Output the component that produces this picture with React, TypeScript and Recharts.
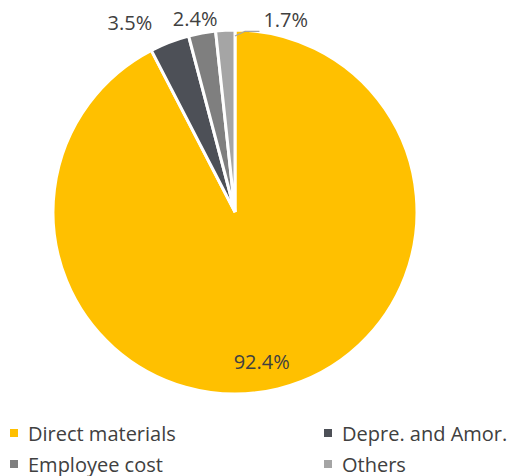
import { PieChart, Pie, Cell, Legend } from "recharts";

const categories = ["Direct materials", "Depre. and Amor.", "Employee cost", "Others"];
const shares = [92.4, 3.5, 2.4, 1.7];
const colors = ["#FFC000", "#4D5057", "#7F7F7F", "#A5A5A5"];
// hand nudges so labels sit where the original puts them
const labelNudge = [
  [-9, 3],
  [-34, -5],
  [-4, 1],
  [40, 5],
];

const data = categories.map((name, i) => ({ name, value: shares[i] }));

const RAD = Math.PI / 180;
const TEXT = "#404040";
const FONT = "'Open Sans', 'Liberation Sans', sans-serif";

function renderLabel(props: any) {
  const { cx, cy, midAngle, outerRadius, index, value } = props;
  const txt = `${value.toFixed(1)}%`;
  const r = index === 0 ? outerRadius * 0.83 : outerRadius + 16;
  const x = cx + r * Math.cos(-midAngle * RAD) + labelNudge[index][0];
  const y = cy + r * Math.sin(-midAngle * RAD) + labelNudge[index][1];
  if (index === 3) {
    const sx = cx;
    const sy = cy - outerRadius + 6;
    return (
      <g>
        <polyline
          points={`${sx},${sy} ${sx + 10},${y + 12} ${x - 5},${y + 12}`}
          fill="none"
          stroke="#A5A5A5"
          strokeWidth={1.3}
        />
        <text x={x - 1} y={y} fill={TEXT} fontSize={20} fontFamily={FONT} textAnchor="start" dominantBaseline="central">
          {txt}
        </text>
      </g>
    );
  }
  return (
    <text x={x} y={y} fill={TEXT} fontSize={20} fontFamily={FONT} textAnchor="middle" dominantBaseline="central">
      {txt}
    </text>
  );
}

function LegendBox() {
  return (
    <div style={{ position: "relative", width: 514, height: 56, fontFamily: FONT, fontSize: 20, color: TEXT }}>
      {categories.map((name, i) => (
        <div
          key={name}
          style={{
            position: "absolute",
            left: i % 2 === 0 ? 10 : 324,
            top: i < 2 ? 0 : 31,
            display: "flex",
            alignItems: "center",
            height: 26,
            whiteSpace: "nowrap",
          }}
        >
          <span style={{ width: 8, height: 8, background: colors[i], display: "inline-block", marginRight: 10 }} />
          <span>{name}</span>
        </div>
      ))}
    </div>
  );
}

export default function App() {
  return (
    <div style={{ position: "absolute", left: 0, top: 0, width: 514, height: 476, background: "#fff" }}>
      <PieChart width={514} height={476}>
        <Pie
          data={data}
          dataKey="value"
          nameKey="name"
          cx={230}
          cy={207}
          outerRadius={182}
          startAngle={90}
          endAngle={-270}
          stroke="#fff"
          strokeWidth={3}
          label={renderLabel}
          labelLine={false}
          isAnimationActive={false}
        >
          {data.map((d, i) => (
            <Cell key={d.name} fill={colors[i]} />
          ))}
        </Pie>
        <Legend
          content={<LegendBox />}
          wrapperStyle={{ position: "absolute", left: 0, top: 420, width: 514 }}
        />
      </PieChart>
    </div>
  );
}
